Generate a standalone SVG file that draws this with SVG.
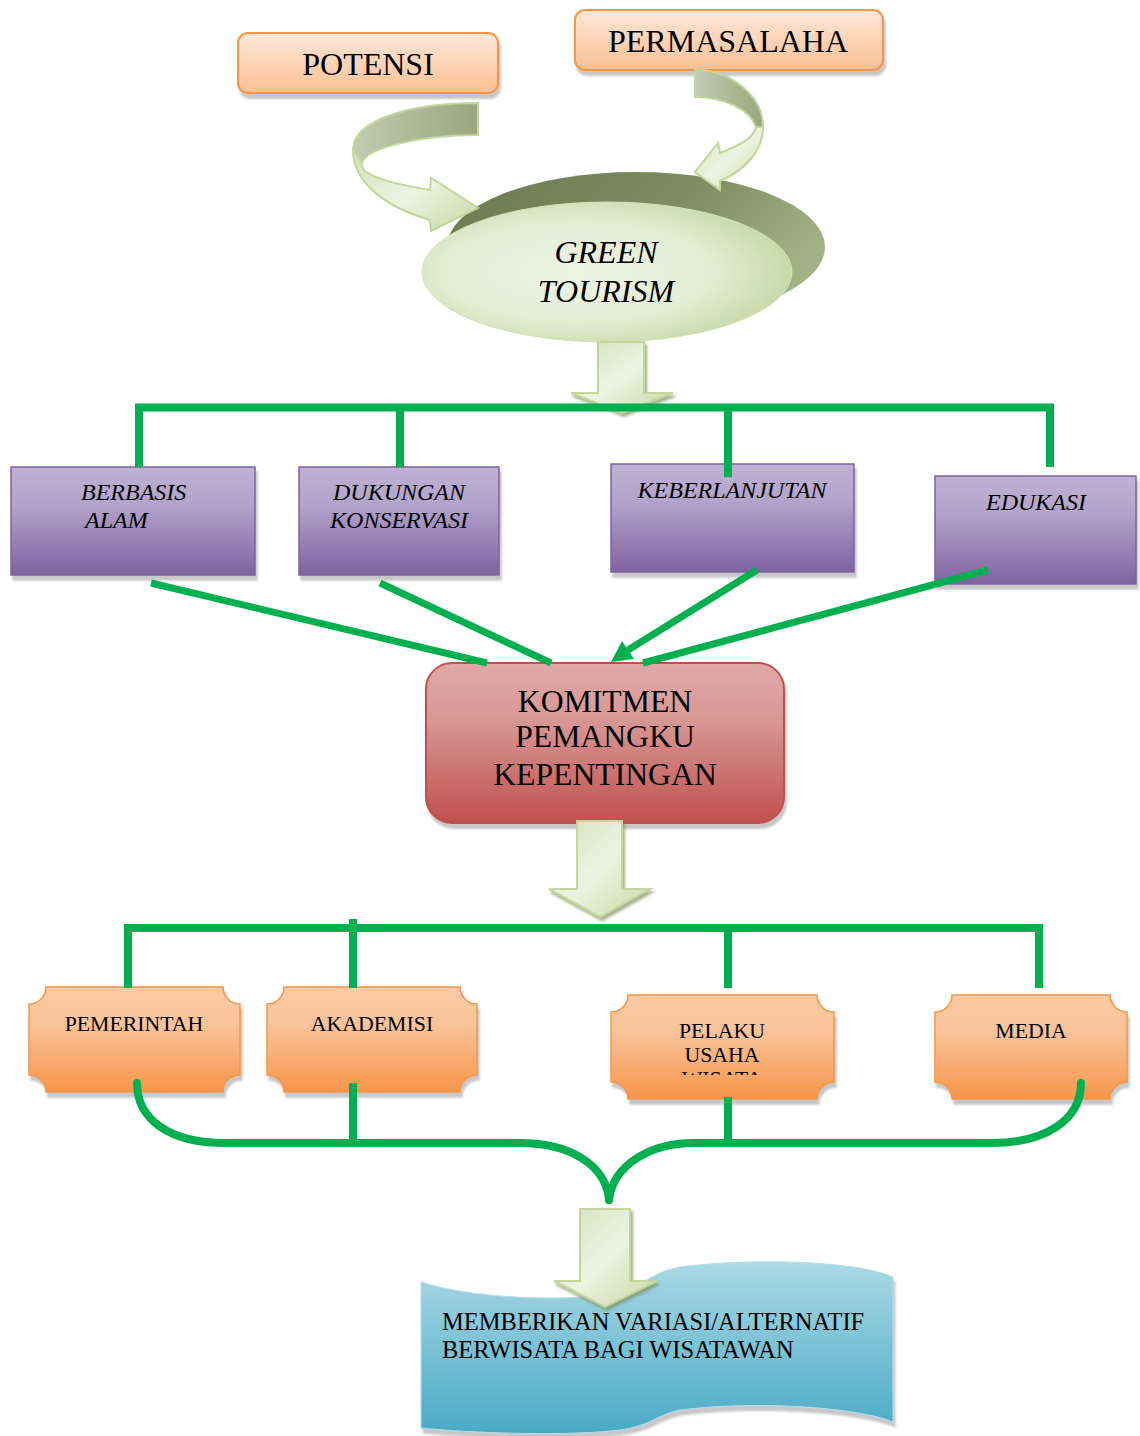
<svg xmlns="http://www.w3.org/2000/svg" width="1140" height="1436" viewBox="0 0 1140 1436">
<defs>
<style>
.t{font-family:"Liberation Serif","Times New Roman",serif;fill:#000}
.it{font-style:italic}
.conn{stroke:#00b050;fill:none;stroke-width:8}
.diag{stroke:#00b050;fill:none;stroke-width:7}
.blk{fill:url(#gArrow);stroke:#c3d69b;stroke-width:2;filter:url(#shA)}
.purple{fill:url(#gPurple);stroke:#7f63a1;stroke-width:1.5;filter:url(#sh)}
.plaque{fill:url(#gOrange);stroke:#f79646;stroke-width:1.5;filter:url(#sh)}
.topbox{fill:url(#gPeach);stroke:#f79646;stroke-width:2;filter:url(#sh)}
</style>
<linearGradient id="gPeach" x1="0" y1="0" x2="0" y2="1"><stop offset="0" stop-color="#fee8da"/><stop offset="1" stop-color="#fbc093"/></linearGradient>
<linearGradient id="gPurple" x1="0" y1="0" x2="0" y2="1"><stop offset="0" stop-color="#bfb1d4"/><stop offset="0.35" stop-color="#b3a3cb"/><stop offset="1" stop-color="#7f63a1"/></linearGradient>
<linearGradient id="gRed" x1="0" y1="0" x2="0" y2="1"><stop offset="0" stop-color="#e0a8a7"/><stop offset="0.35" stop-color="#d89896"/><stop offset="1" stop-color="#c0504d"/></linearGradient>
<linearGradient id="gOrange" x1="0" y1="0" x2="0" y2="1"><stop offset="0" stop-color="#fbcba5"/><stop offset="0.35" stop-color="#fac39a"/><stop offset="1" stop-color="#f7964a"/></linearGradient>
<linearGradient id="gBlue" x1="0" y1="0" x2="0" y2="1"><stop offset="0" stop-color="#aad9e5"/><stop offset="1" stop-color="#4aaac6"/></linearGradient>
<linearGradient id="gArrow" x1="0" y1="0" x2="1" y2="1"><stop offset="0" stop-color="#d2e1b8"/><stop offset="0.5" stop-color="#edf3e2"/><stop offset="1" stop-color="#c6d9a2"/></linearGradient>
<linearGradient id="gBand" x1="0" y1="0" x2="1" y2="0"><stop offset="0" stop-color="#c3cbb1"/><stop offset="1" stop-color="#98a77c"/></linearGradient>
<linearGradient id="gDisc" x1="0" y1="0" x2="1" y2="0.4"><stop offset="0" stop-color="#6b7a4f"/><stop offset="0.6" stop-color="#7e8d60"/><stop offset="1" stop-color="#a3b285"/></linearGradient>
<radialGradient id="gEll" cx="0.42" cy="0.5" r="0.6"><stop offset="0" stop-color="#eef4e5"/><stop offset="0.6" stop-color="#e3edd4"/><stop offset="1" stop-color="#c5d8a4"/></radialGradient>
<filter id="sh" x="-5%" y="-5%" width="115%" height="125%"><feDropShadow dx="2" dy="5" stdDeviation="0.8" flood-color="#9a9a9a" flood-opacity="0.55"/></filter>
<filter id="shA" x="-20%" y="-20%" width="150%" height="150%"><feDropShadow dx="2" dy="3" stdDeviation="1.5" flood-color="#7d8c5e" flood-opacity="0.7"/></filter>
<clipPath id="clipPelaku"><rect x="611" y="995" width="223" height="80"/></clipPath>
</defs>

<rect width="1140" height="1436" fill="#fff"/>

<g id="potensi">
  <rect class="topbox" x="238" y="33" width="260" height="60" rx="10"/>
  <text class="t" x="368" y="75" font-size="32" text-anchor="middle">POTENSI</text>
</g>

<g id="permasalaha">
  <rect class="topbox" x="575" y="10" width="308" height="60" rx="10"/>
  <text class="t" x="728" y="52" font-size="32" text-anchor="middle">PERMASALAHA</text>
</g>

<g id="green-tourism">
  <ellipse cx="636" cy="247" rx="189" ry="75" fill="url(#gDisc)"/>
  <ellipse cx="607" cy="272" rx="185" ry="70" fill="url(#gEll)" stroke="#d3e1bb" stroke-width="1"/>
  <text class="t it" x="606" y="263" font-size="32" text-anchor="middle">GREEN</text>
  <text class="t it" x="606" y="302" font-size="32" text-anchor="middle">TOURISM</text>
</g>

<g id="arrow-potensi">
  <path d="M478,103 C410,103 353,120 353,150 L362,163 C366,148 420,135 478,135 Z" fill="url(#gBand)" stroke="#c3d69b" stroke-width="2"/>
  <path d="M353,150 C353,182 385,207 430,220 L431,231 L478,208 L431,178 L430,190 C395,184 358,176 362,163 Z" fill="url(#gArrow)" stroke="#c3d69b" stroke-width="2"/>
</g>

<g id="arrow-permasalaha">
  <path d="M695,70 C730,70 763,95 763,127 L756,127 C750,110 725,97 695,97 Z" fill="url(#gBand)" stroke="#c3d69b" stroke-width="2"/>
  <path d="M763,127 C763,150 746,170 720,181 L720,190 L695,172 L718,143 L720,153 C740,145 754,138 756,127 Z" fill="url(#gArrow)" stroke="#c3d69b" stroke-width="2"/>
</g>

<g id="arrow-down-1">
  <path class="blk" d="M598,342 H644 V393 H673 L622,413 L571,393 H598 Z"/>
</g>

<g id="berbasis-alam">
  <rect class="purple" x="11" y="467" width="244" height="108"/>
  <text class="t it" x="81" y="500" font-size="24">BERBASIS</text>
  <text class="t it" x="85" y="528" font-size="24">ALAM</text>
</g>

<g id="dukungan-konservasi">
  <rect class="purple" x="299" y="467" width="200" height="108"/>
  <text class="t it" x="399" y="500" font-size="24" text-anchor="middle">DUKUNGAN</text>
  <text class="t it" x="399" y="528" font-size="24" text-anchor="middle">KONSERVASI</text>
</g>

<g id="keberlanjutan">
  <rect class="purple" x="611" y="464" width="243" height="108"/>
  <text class="t it" x="732" y="498" font-size="24" text-anchor="middle">KEBERLANJUTAN</text>
</g>

<g id="edukasi">
  <rect class="purple" x="935" y="476" width="201" height="108"/>
  <text class="t it" x="1036" y="510" font-size="24" text-anchor="middle">EDUKASI</text>
</g>

<g id="komitmen">
  <rect x="426" y="663" width="358" height="160" rx="26" fill="url(#gRed)" stroke="#c0504d" stroke-width="2" filter="url(#sh)"/>
  <text class="t" x="605" y="712" font-size="31.7" text-anchor="middle">KOMITMEN</text>
  <text class="t" x="605" y="747" font-size="31.7" text-anchor="middle">PEMANGKU</text>
  <text class="t" x="605" y="785" font-size="31.7" text-anchor="middle">KEPENTINGAN</text>
</g>

<g id="arrow-down-2">
  <path class="blk" d="M577,821 H622 V889 H650 L600,917 L549,889 H577 Z"/>
</g>

<g id="pemerintah">
  <path class="plaque" d="M46,987 H223 A17,17 0 0 0 240,1004 V1075 A17,17 0 0 0 223,1092 H46 A17,17 0 0 0 29,1075 V1004 A17,17 0 0 0 46,987 Z"/>
  <text class="t" x="134" y="1031" font-size="21.8" text-anchor="middle">PEMERINTAH</text>
</g>

<g id="akademisi">
  <path class="plaque" d="M284,987 H460 A17,17 0 0 0 477,1004 V1075 A17,17 0 0 0 460,1092 H284 A17,17 0 0 0 267,1075 V1004 A17,17 0 0 0 284,987 Z"/>
  <text class="t" x="372" y="1031" font-size="21.8" text-anchor="middle">AKADEMISI</text>
</g>

<g id="pelaku-usaha-wisata">
  <path class="plaque" d="M628,995 H817 A17,17 0 0 0 834,1012 V1082 A17,17 0 0 0 817,1099 H628 A17,17 0 0 0 611,1082 V1012 A17,17 0 0 0 628,995 Z"/>
  <g clip-path="url(#clipPelaku)">
    <text class="t" x="722" y="1038" font-size="21.8" text-anchor="middle">PELAKU</text>
    <text class="t" x="722" y="1062" font-size="21.8" text-anchor="middle">USAHA</text>
    <text class="t" x="722" y="1086" font-size="21.8" text-anchor="middle">WISATA</text>
  </g>
</g>

<g id="media">
  <path class="plaque" d="M952,995 H1110 A17,17 0 0 0 1127,1012 V1082 A17,17 0 0 0 1110,1099 H952 A17,17 0 0 0 935,1082 V1012 A17,17 0 0 0 952,995 Z"/>
  <text class="t" x="1031" y="1038" font-size="21.8" text-anchor="middle">MEDIA</text>
</g>

<g id="hasil">
  <path d="M421,1282 C470,1298 560,1302 610,1294 C640,1290 650,1272 680,1267 C760,1257 860,1262 893,1277 V1422 C860,1408 760,1400 680,1410 C655,1415 650,1428 610,1431 C560,1436 470,1433 421,1428 Z" fill="url(#gBlue)" stroke="#b5dde8" stroke-width="1" filter="url(#sh)"/>
  <text class="t" x="442" y="1330" font-size="24.5">MEMBERIKAN VARIASI/ALTERNATIF</text>
  <text class="t" x="442" y="1358" font-size="24.5">BERWISATA BAGI WISATAWAN</text>
</g>

<g id="arrow-down-3">
  <path class="blk" d="M580,1209 H630 V1281 H657 L605,1307 L554,1281 H580 Z"/>
</g>

<g id="connectors">
  <path class="conn" d="M139,467 V407.5 H1050 V467"/>
  <path class="conn" d="M400,407.5 V467"/>
  <path class="conn" d="M728,407.5 V477"/>
  <line class="diag" x1="151" y1="583" x2="487" y2="663"/>
  <line class="diag" x1="380" y1="583" x2="551" y2="663"/>
  <line class="diag" x1="757" y1="570" x2="628" y2="650"/>
  <polygon points="611,662 634,659 622,641" fill="#00b050"/>
  <line class="diag" x1="988" y1="570" x2="643" y2="663"/>
  <path class="conn" d="M128,988 V928 H1039 V988"/>
  <path class="conn" d="M353,919 V988"/>
  <path class="conn" d="M728,928 V988"/>
  <path class="conn" d="M137,1083 C137,1120 170,1143 225,1143 H520 C570,1143 606,1165 609,1200" stroke-linecap="round"/>
  <path class="conn" d="M609,1200 C613,1165 650,1143 694,1143 H992 C1045,1143 1081,1120 1081,1083" stroke-linecap="round"/>
  <path class="conn" d="M353,1083 V1143"/>
  <path class="conn" d="M728,1097 V1143"/>
</g>
</svg>
